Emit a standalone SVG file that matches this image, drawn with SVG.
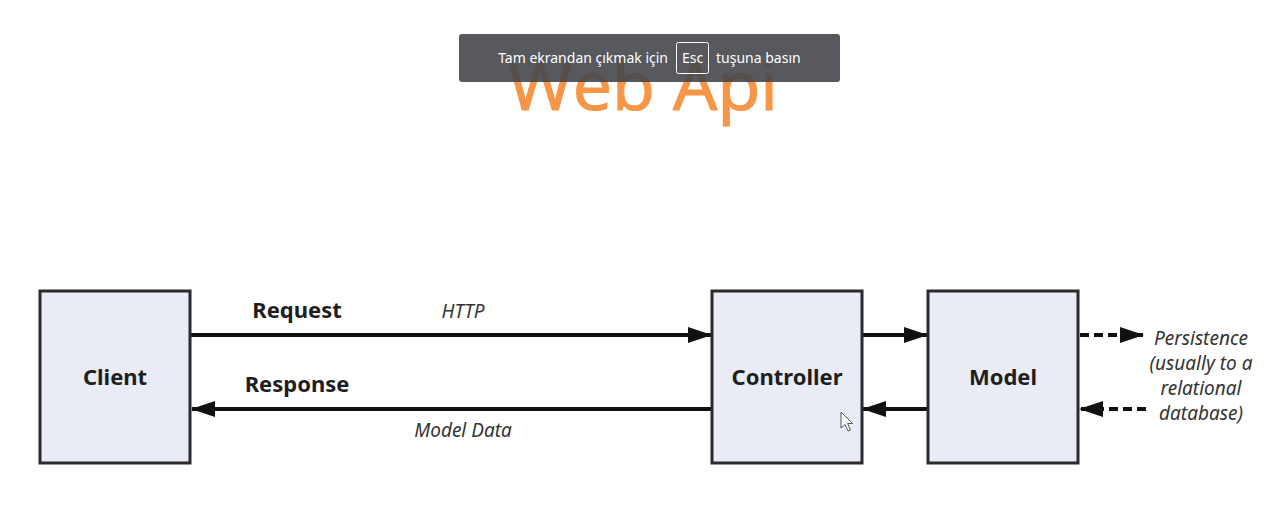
<svg xmlns="http://www.w3.org/2000/svg" width="1281" height="531" viewBox="0 0 1281 531">
<defs>
<style>
.box{fill:#e9ebf5;stroke:#2b2b2b;stroke-width:3}
.lbl{font-family:"Noto Sans","Open Sans",sans-serif;font-weight:bold;font-size:22px;fill:#1e1e1e;text-anchor:middle}
.ital{font-family:"Noto Sans","Open Sans",sans-serif;font-style:italic;font-size:19px;fill:#333}
.line{stroke:#111;stroke-width:4;fill:none}
.dash{stroke:#111;stroke-width:4;fill:none;stroke-dasharray:9,5}
.toast{font-family:"Noto Sans","Open Sans",sans-serif;font-size:14px;fill:#fff}
</style>
<marker id="ah" viewBox="0 0 24 18" refX="23" refY="9" markerWidth="24" markerHeight="18" orient="auto" markerUnits="userSpaceOnUse"><path d="M0,1 L24,9 L0,17 z" fill="#111"/></marker>
</defs>
<rect width="1281" height="531" fill="#fff"/>
<text x="508" y="110" font-family="'Open Sans','Noto Sans',sans-serif" font-size="68" fill="#f79646" stroke="#f79646" stroke-width="1.2" textLength="270" lengthAdjust="spacingAndGlyphs">Web Api</text>
<g id="toast">
<rect x="459" y="34" width="381" height="48" rx="3" fill="#45474c" fill-opacity="0.9"/>
<text class="toast" x="668" y="62.5" text-anchor="end">Tam ekrandan çıkmak için</text>
<rect x="676.5" y="42.5" width="32" height="31" rx="2" fill="none" stroke="#fff" stroke-width="1"/>
<text class="toast" x="692.5" y="62.5" text-anchor="middle">Esc</text>
<text class="toast" x="716" y="62.5">tuşuna basın</text>
</g>
<g id="connectors">
<line class="line" x1="191" y1="335" x2="711" y2="335" marker-end="url(#ah)"/>
<line class="line" x1="711" y1="409" x2="192" y2="409" marker-end="url(#ah)"/>
<line class="line" x1="863" y1="335" x2="927" y2="335" marker-end="url(#ah)"/>
<line class="line" x1="927" y1="409" x2="863" y2="409" marker-end="url(#ah)"/>
<line class="dash" x1="1080" y1="335" x2="1143" y2="335" marker-end="url(#ah)"/>
<line class="dash" x1="1146" y1="409" x2="1080" y2="409" marker-end="url(#ah)"/>
<text class="lbl" x="297" y="318">Request</text>
<text class="ital" x="463" y="318" text-anchor="middle">HTTP</text>
<text class="lbl" x="297" y="392">Response</text>
<text class="ital" x="463" y="437" text-anchor="middle">Model Data</text>
</g>
<g id="client"><rect class="box" x="40" y="291" width="150" height="172"/><text class="lbl" x="115" y="385">Client</text></g>
<g id="controller"><rect class="box" x="712" y="291" width="150" height="172"/><text class="lbl" x="787" y="385">Controller</text></g>
<g id="model"><rect class="box" x="928" y="291" width="150" height="172"/><text class="lbl" x="1003" y="385">Model</text></g>
<g id="persistence">
<text class="ital" text-anchor="middle"><tspan x="1201" y="345">Persistence</tspan><tspan x="1201" y="370">(usually to a</tspan><tspan x="1201" y="395">relational</tspan><tspan x="1201" y="420">database)</tspan></text>
</g>
<g id="cursor"><path d="M841,412 L841,428 L845,424.5 L848,431 L850.5,430 L847.5,423.5 L852.5,423.5 Z" fill="#fff" stroke="#555" stroke-width="1"/></g>
</svg>
